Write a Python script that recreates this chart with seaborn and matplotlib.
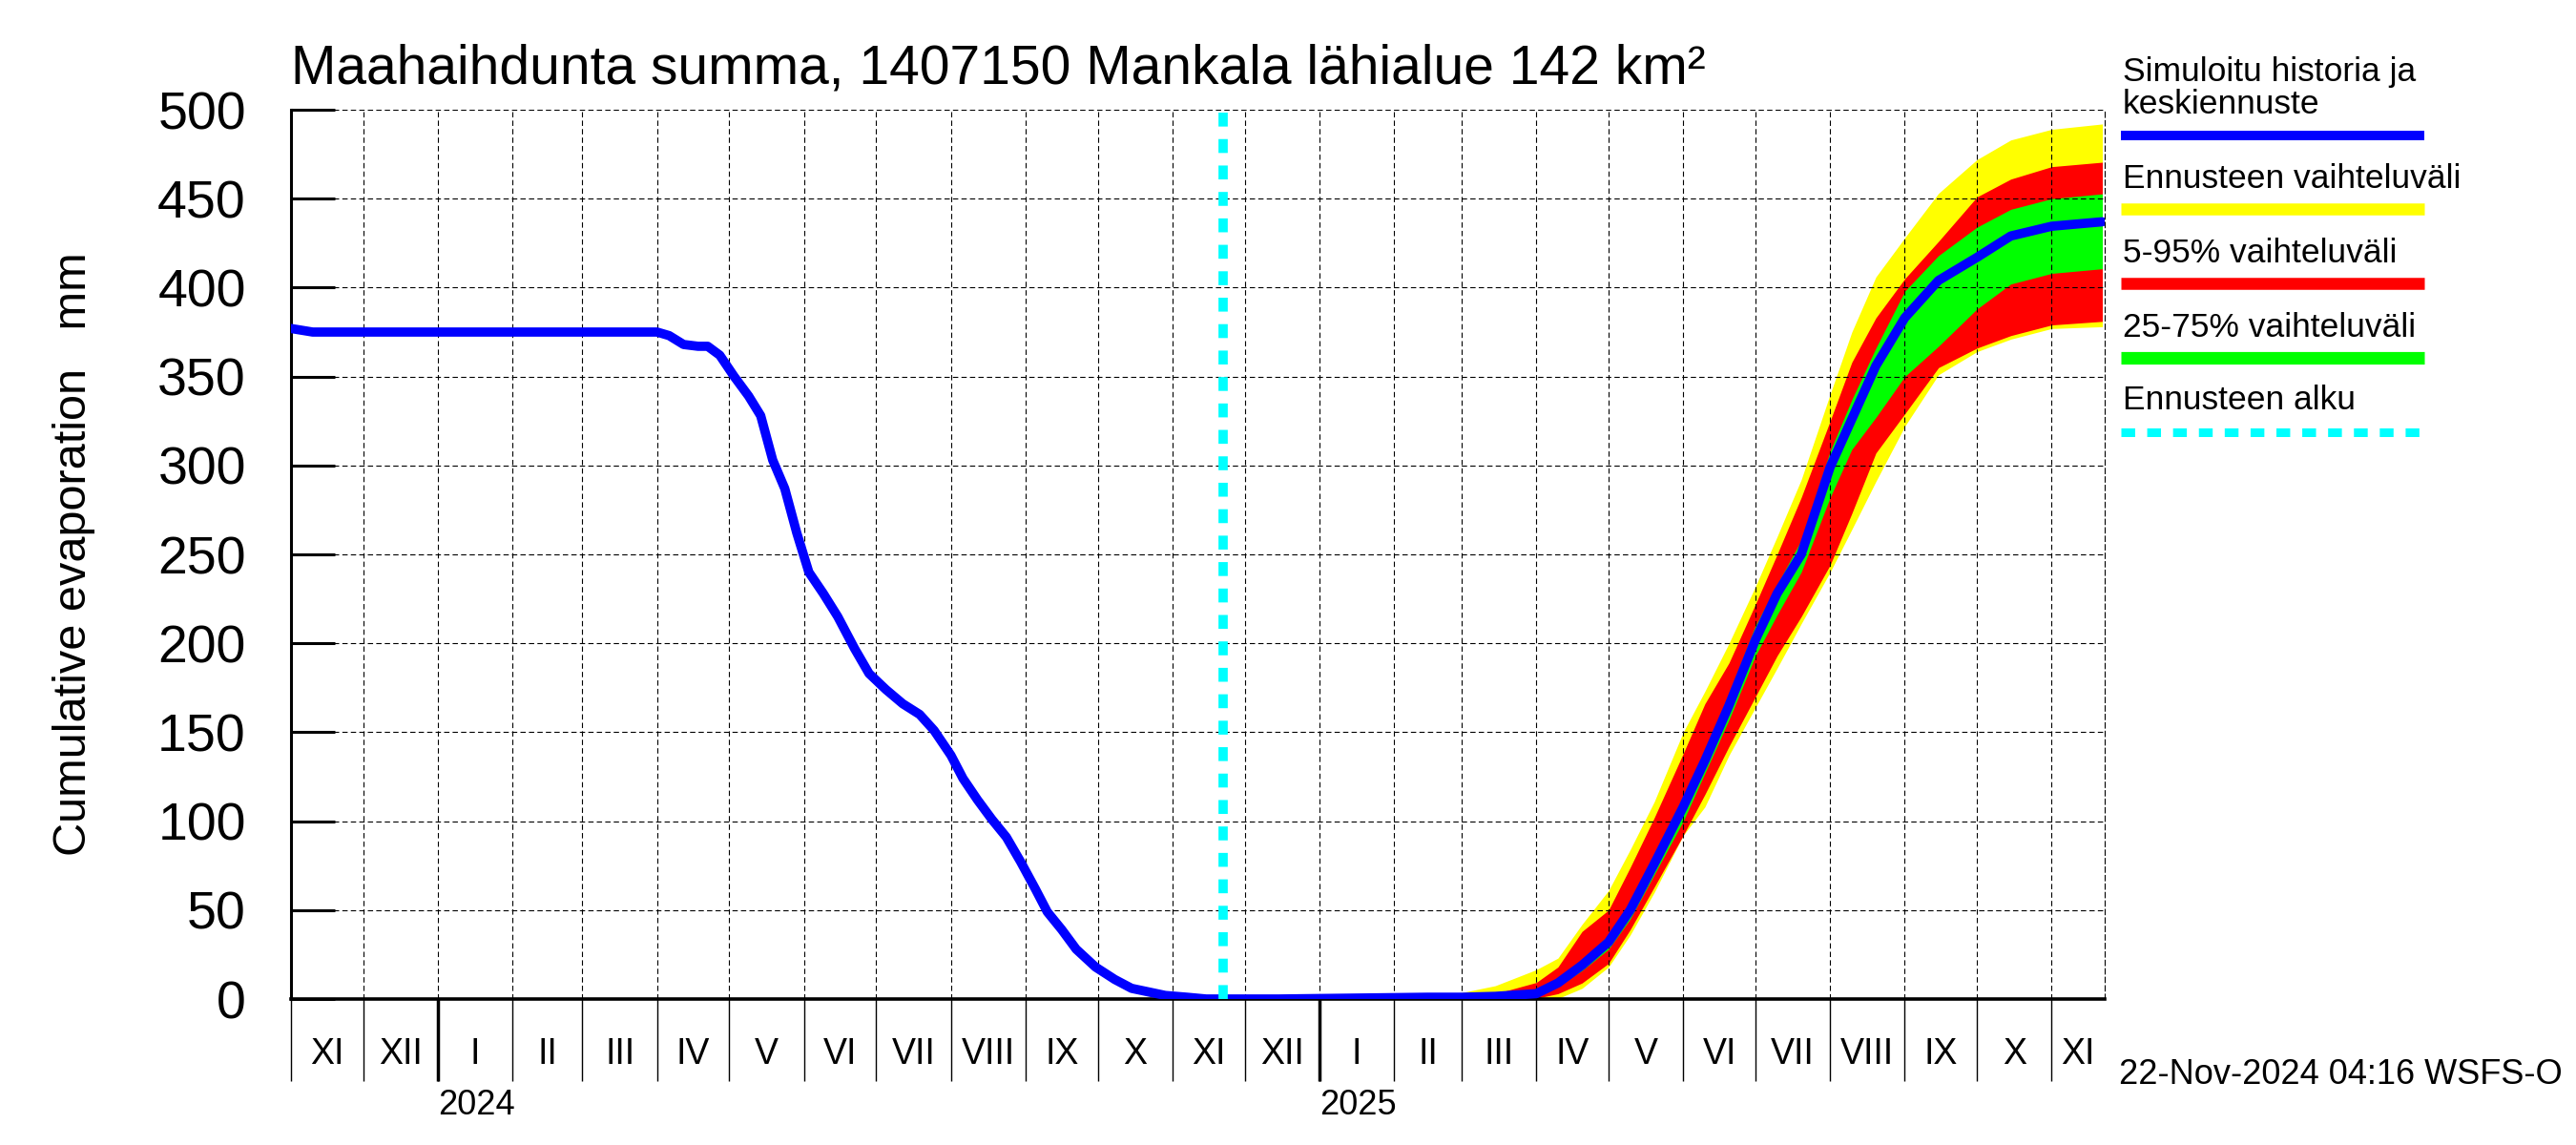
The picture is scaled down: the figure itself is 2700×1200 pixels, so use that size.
import numpy as np
import pandas as pd
import matplotlib
matplotlib.use("Agg")
import matplotlib.pyplot as plt
import matplotlib.dates as mdates
from matplotlib.lines import Line2D
from matplotlib.ticker import FixedLocator, FixedFormatter, NullFormatter
import seaborn as sns

# ---------------- data ----------------
title = "Maahaihdunta summa, 1407150 Mankala lähialue 142 km²"
ylabel = "Cumulative evaporation   mm"
timestamp = "22-Nov-2024 04:16 WSFS-O"
x_start = "2023-11-01"
x_end = "2025-11-23"
forecast_start = "2024-11-22"
roman = ["I", "II", "III", "IV", "V", "VI", "VII", "VIII", "IX", "X", "XI", "XII"]
year_labels = ["2024", "2025"]
y_ticks = [0, 50, 100, 150, 200, 250, 300, 350, 400, 450, 500]

hist_dates = ["2023-11-01", "2023-11-10", "2024-01-01", "2024-03-01", "2024-04-01",
              "2024-04-06", "2024-04-12", "2024-04-18", "2024-04-22", "2024-04-27",
              "2024-05-03", "2024-05-09", "2024-05-14", "2024-05-19", "2024-05-24",
              "2024-05-29", "2024-06-03", "2024-06-09", "2024-06-15", "2024-06-22",
              "2024-06-28", "2024-07-05", "2024-07-12", "2024-07-19", "2024-07-25",
              "2024-08-01", "2024-08-06", "2024-08-12", "2024-08-18", "2024-08-24",
              "2024-08-30", "2024-09-05", "2024-09-10", "2024-09-16", "2024-09-22",
              "2024-09-30", "2024-10-08", "2024-10-15", "2024-10-22", "2024-10-29",
              "2024-11-07", "2024-11-15", "2024-11-22"]
hist_values = [377, 375, 375, 375, 375,
               373, 368, 367, 367, 362,
               350, 339, 328, 303, 287,
               262, 240, 228, 215, 197,
               183, 174, 166, 160, 151,
               137, 124, 112, 101, 91,
               77, 62, 49, 39, 28,
               18, 11, 6, 4, 2,
               1, 0, 0]

fc_dates = ["2024-11-22", "2024-12-15", "2025-01-15", "2025-02-15", "2025-03-01",
            "2025-03-15", "2025-04-01", "2025-04-10", "2025-04-20", "2025-05-01",
            "2025-05-10", "2025-05-20", "2025-06-01", "2025-06-10", "2025-06-20",
            "2025-07-01", "2025-07-10", "2025-07-20", "2025-08-01", "2025-08-10",
            "2025-08-20", "2025-09-01", "2025-09-15", "2025-10-01", "2025-10-15",
            "2025-11-01", "2025-11-22"]
fc_median = [0, 0, 0.5, 1, 1, 1.5, 3, 9, 19, 32, 50, 76, 108, 134, 165,
             202, 228, 250, 299, 326, 356, 383, 404, 417, 429, 434.5, 437]
fc_max = [0, 0.2, 0.6, 2, 3.6, 7.5, 16.5, 23, 42, 61, 84, 111, 150, 173, 200,
          232, 260, 292, 340, 375, 406, 428, 453, 472, 483, 489, 492]
fc_p95 = [0, 0.1, 0.5, 1, 1.3, 3, 9.3, 18, 38, 50, 74, 102, 138, 166, 189,
          222, 250, 282, 325, 358, 383, 405, 426, 451, 461, 468, 470.5]
fc_p75 = [0, 0, 0.5, 1, 1.2, 2, 4, 11, 22, 36, 55, 82, 114, 140, 172,
          210, 233, 258, 308, 337, 366, 398, 418, 434, 444, 450, 452.7]
fc_p25 = [0, 0, 0.4, 0.8, 0.8, 1, 2, 7, 16, 28, 45, 70, 100, 127, 157,
          193, 216, 240, 282, 309, 327, 350, 367, 388, 402, 408, 410.6]
fc_p05 = [0, 0, 0, 0, 0, 0.1, 0.4, 3, 9, 20, 39, 63, 92, 115, 142,
          170, 193, 215, 244, 273, 307, 329, 355, 366, 373, 379, 381]
fc_min = [0, 0, 0, 0, 0, 0, 0, 0.3, 6, 18, 36, 60, 92, 108, 137,
          164, 186, 211, 240, 264, 291, 322, 351, 364, 371, 377, 378]

legend_labels = ["Simuloitu historia ja\nkeskiennuste", "Ennusteen vaihteluväli",
                 "5-95% vaihteluväli", "25-75% vaihteluväli", "Ennusteen alku"]

BLUE, YELLOW, RED, GREEN, CYAN = "#0000ff", "#ffff00", "#ff0000", "#00ff00", "#00ffff"

# ---------------- style ----------------
sns.set_theme(style="white")
plt.rcParams["font.family"] = ["Liberation Sans", "DejaVu Sans"]

W, H = 2700, 1200
fig = plt.figure(figsize=(W / 100, H / 100), dpi=100)
fx = lambda px: px / W
fy = lambda py: 1 - py / H
ax = fig.add_axes([fx(305), fy(1047), fx(2206) - fx(305), fy(115) - fy(1047)])

hist = pd.DataFrame({"date": pd.to_datetime(hist_dates), "value": hist_values})
fc = pd.DataFrame({"date": pd.to_datetime(fc_dates), "median": fc_median,
                   "min": fc_min, "max": fc_max, "p05": fc_p05, "p95": fc_p95,
                   "p25": fc_p25, "p75": fc_p75})

ax.fill_between(fc["date"], fc["min"], fc["max"], color=YELLOW, lw=0, zorder=1)
ax.fill_between(fc["date"], fc["p05"], fc["p95"], color=RED, lw=0, zorder=1.1)
ax.fill_between(fc["date"], fc["p25"], fc["p75"], color=GREEN, lw=0, zorder=1.2)
sns.lineplot(data=hist, x="date", y="value", color=BLUE, lw=7, ax=ax, zorder=3)
sns.lineplot(data=fc, x="date", y="median", color=BLUE, lw=7, ax=ax, zorder=3)
ax.axvline(pd.Timestamp(forecast_start), color=CYAN, lw=7, ls=(0, (1.5, 1.35)), zorder=3.1)

xmin, xmax = pd.Timestamp(x_start), pd.Timestamp(x_end)
ax.set_xlim(xmin, xmax)
ax.set_ylim(0, 500)
ax.set_xlabel("")
ax.set_ylabel("")

# y axis
ax.set_yticks(y_ticks)
ax.tick_params(axis="y", direction="in", length=33, width=2.2, labelsize=40, pad=34,
               colors="black", left=True)

# x axis: month boundaries
ax.xaxis.set_major_locator(mdates.MonthLocator())
ax.xaxis.set_major_formatter(NullFormatter())
ax.tick_params(axis="x", which="major", direction="out", length=62, width=1,
               color="black", bottom=True)
starts = pd.date_range(xmin, xmax, freq="MS")
centers, labels = [], []
for m in starts:
    nxt = m + pd.offsets.MonthBegin(1)
    a, b = max(m, xmin), min(nxt, xmax)
    centers.append(mdates.date2num(a + (b - a) / 2))
    labels.append(roman[m.month - 1])
ax.xaxis.set_minor_locator(FixedLocator(centers))
ax.xaxis.set_minor_formatter(FixedFormatter(labels))
ax.tick_params(axis="x", which="minor", length=0, labelsize=27, pad=29, colors="black")

# year ticks
jan1 = [d for d in starts if d.month == 1]
sec = ax.secondary_xaxis("bottom")
sec.set_xticks([mdates.date2num(d) for d in jan1], labels=year_labels)
sec.tick_params(axis="x", direction="out", length=62, width=2.5, labelsize=26, pad=6,
                color="black", labelcolor="black")
for t in sec.get_xticklabels():
    t.set_ha("left")
sec.spines["bottom"].set_visible(False)

# grid & spines
DASH = (0, (5, 3))
ax.set_axisbelow(False)
ax.grid(True, which="major", axis="both", color="black", ls=DASH, lw=0.8)
ax.spines["top"].set_visible(False)
ax.spines["right"].set_linestyle(DASH)
ax.spines["right"].set_linewidth(0.8)
ax.spines["right"].set_color("black")
ax.spines["left"].set_linewidth(2.2)
ax.spines["left"].set_color("black")
ax.spines["bottom"].set_linewidth(2.6)
ax.spines["bottom"].set_color("black")

# texts
ax.set_title(title, loc="left", fontsize=41, pad=20, color="black")
ax.set_ylabel(ylabel, fontsize=35, color="black")
ax.yaxis.set_label_coords(-0.108, 0.5)
fig.text(fx(2221), fy(1126), timestamp, fontsize=26, va="center", ha="left", color="black")

# legend (text above line sample)
leg_x0, leg_x1 = fx(2223), fx(2541)
text_baselines = [[85, 119], [197], [275], [353], [429]]
line_ys = [142, 219, 297, 375, 453]
line_styles = [(BLUE, 7.2, "-"), (YELLOW, 9, "-"), (RED, 9, "-"), (GREEN, 9.5, "-"),
               (CYAN, 6.5, (0, (1.6, 1.4)))]
for lab, bases, ly, (c, lw, ls) in zip(legend_labels, text_baselines, line_ys, line_styles):
    for part, b in zip(lab.split("\n"), bases):
        fig.text(fx(2225), fy(b), part, fontsize=25.5, va="baseline", ha="left", color="black")
    fig.add_artist(Line2D([leg_x0, leg_x1], [fy(ly), fy(ly)], color=c, lw=lw, ls=ls,
                          solid_capstyle="butt", dash_capstyle="butt",
                          transform=fig.transFigure))

fig.savefig("out.png", dpi=100, facecolor="white")
